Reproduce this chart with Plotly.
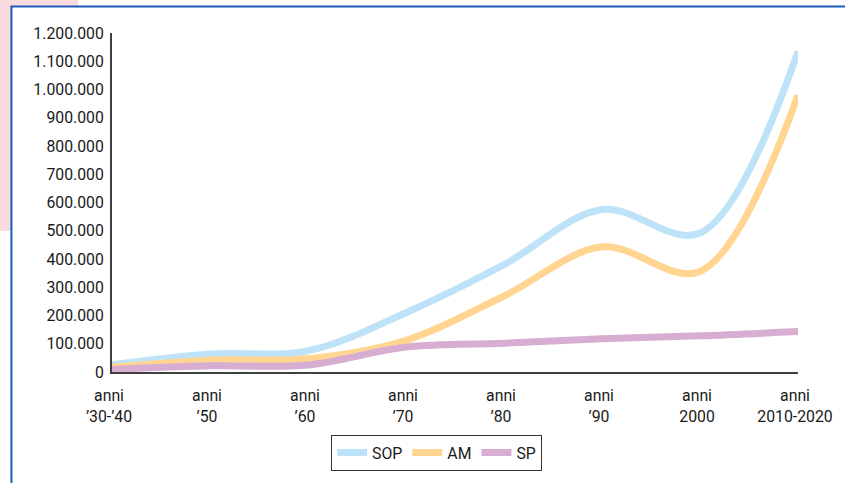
import plotly.graph_objects as go

# Decades on the x axis
categories = ["anni<br>’30-’40", "anni<br>’50", "anni<br>’60", "anni<br>’70",
              "anni<br>’80", "anni<br>’90", "anni<br>2000", "anni<br>2010-2020"]

# Series values
sop = [26000, 64000, 75000, 210000, 380000, 575000, 492000, 1135000]
am = [17000, 42000, 47000, 112000, 269000, 443000, 356000, 980000]
sp = [9000, 22000, 25000, 88000, 102000, 118000, 128000, 143000]

# Y axis ticks
y_ticks = [0, 100000, 200000, 300000, 400000, 500000, 600000,
           700000, 800000, 900000, 1000000, 1100000, 1200000]

FONT = "Roboto, sans-serif"
FSIZE = 15.8
x_idx = list(range(len(categories)))

series = [
    ("SOP", sop, "#BEE3F8"),
    ("AM", am, "#FFD591"),
    ("SP", sp, "#D8ADD2"),
]

fig = go.Figure()
for name, vals, color in series:
    fig.add_trace(go.Scatter(
        x=x_idx, y=vals, name=name, mode="lines",
        line=dict(color=color, width=7, shape="spline", smoothing=1.0),
        hoverinfo="skip",
    ))

# Plot area spans 112..801 px horizontally and 33..377 px vertically
L, R, T, B = 112, 801, 33, 377
W, H = 845, 483


def px_x(p):
    return (p - L) / (R - L)


def px_y(p):
    return (B - p) / (B - T)


shapes = [
    # pink corner panel
    dict(type="rect", xref="paper", yref="paper",
         x0=px_x(-5), x1=px_x(78), y0=px_y(234), y1=px_y(-5),
         fillcolor="#F9DADE", line=dict(width=0), layer="below"),
    # white card with blue border
    dict(type="rect", xref="paper", yref="paper",
         x0=px_x(11), x1=px_x(870), y0=px_y(520), y1=px_y(6),
         fillcolor="white", line=dict(color="#1A5DB8", width=2), layer="below"),
]

fig.update_layout(
    width=W, height=H,
    margin=dict(l=L, r=W - R, t=T, b=H - B),
    paper_bgcolor="white", plot_bgcolor="rgba(0,0,0,0)",
    separators=",.",
    font=dict(family=FONT, size=FSIZE, color="#1a1a1a"),
    shapes=shapes,
    showlegend=True,
    legend=dict(
        orientation="h", x=px_x(438), y=px_y(459),
        xanchor="center", yanchor="middle",
        bordercolor="#333333", borderwidth=1,
        font=dict(family=FONT, size=FSIZE, color="#1a1a1a"),
        itemwidth=30, traceorder="normal",
    ),
)

fig.update_xaxes(
    range=[0, len(categories) - 1],
    tickmode="array", tickvals=x_idx, ticktext=categories,
    showgrid=False, zeroline=False,
    showline=True, linecolor="#404040", linewidth=2,
    ticks="", ticklabelshift=-3, ticklabelstandoff=8,
)
fig.update_yaxes(
    range=[0, 1200000],
    tickmode="array", tickvals=y_ticks, tickformat=",d",
    showgrid=False, zeroline=False,
    showline=True, linecolor="#404040", linewidth=2,
    ticks="", ticklabelstandoff=3,
)

fig.write_html("out.html")
